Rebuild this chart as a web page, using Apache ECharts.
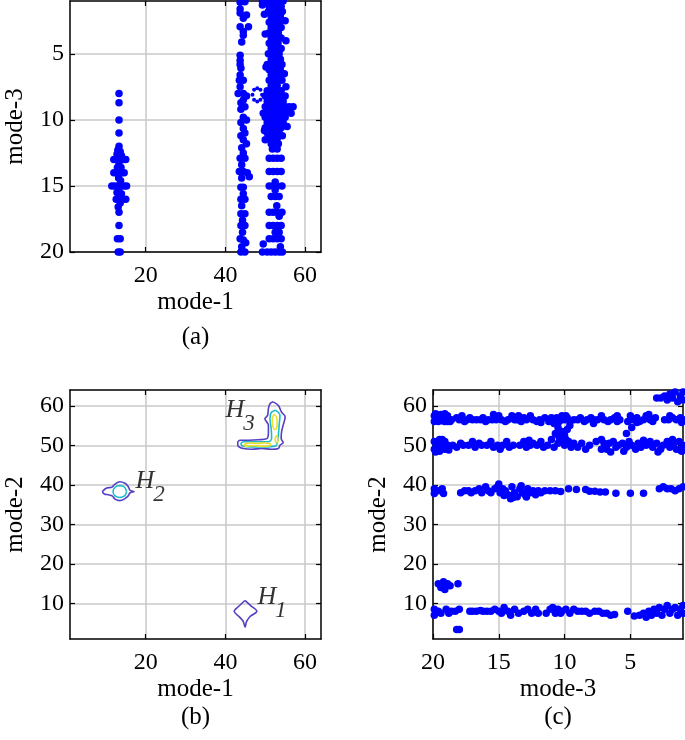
<!DOCTYPE html>
<html><head><meta charset="utf-8">
<script src="https://cdn.jsdelivr.net/npm/echarts@6/dist/echarts.min.js"></script>
<style>html,body{margin:0;padding:0;background:#fff}#c{width:685px;height:740px}</style>
</head><body><div id="c"></div>
<script>
// ---------- tick labels ----------
const ticksMode1 = [20, 40, 60];
const ticksMode2 = [10, 20, 30, 40, 50, 60];
const ticksMode3 = [5, 10, 15, 20];
const panelLabels = ['(a)', '(b)', '(c)'];

// ---------- (a) mode-1 (x) vs mode-3 (y) ----------
const scatterA_cluster13 = [[13.3,8],[13.3,8.7],[13.3,10],[13.3,11],[13.3,12],[13,12.3],[13.6,12.4],[12.8,12.6],[13.9,12.7],[13.3,12.8],[12,13],[12.5,13],[13,13],[14,13],[14.5,13],[15,13],[13.3,13.4],[12.9,13.6],[13.8,13.6],[12,14],[12.6,14],[13.4,14],[14,14],[14.6,14],[13.2,14.4],[13.7,14.6],[11.5,15],[12.2,15],[13,15],[13.8,15],[14.6,15],[15.2,15],[13.2,15.3],[12.8,15.5],[13.9,15.6],[13.3,15.8],[12.6,16],[13.4,16],[14.2,16],[15,16],[13.6,16.3],[13.1,16.6],[13.3,17],[13.3,18],[12.9,19],[13.6,19],[13.1,20],[13.6,20]];
const scatterA_cluster44 = [[43.7,1.1],[44.9,1.05],[43.7,1.6],[43.7,1.9],[45.3,2.06],[44.5,2.3],[43.7,2.95],[45.8,2.95],[44.5,3.3],[44.5,3.6],[44.1,4.1],[43.7,5.1],[43.7,5.5],[43.7,5.8],[43.9,6.1],[43.7,6.6],[44.5,7.0],[43.5,7.0],[43.7,7.5],[43.2,8.0],[44.5,8.0],[45.3,8.2],[44.5,8.5],[43.9,8.7],[44.9,9.0],[43.9,9.2],[44.5,9.8],[45.3,10.0],[43.9,10.2],[44.5,10.65],[44.9,11.0],[43.9,11.2],[44.5,11.5],[45.3,11.8],[44.1,12.1],[44.5,12.5],[43.7,12.9],[44.9,12.9],[44.1,13.4],[43.5,13.9],[44.5,13.9],[45.5,14.0],[46.0,14.3],[44.1,14.4],[44.5,15.1],[43.9,15.1],[44.5,15.6],[43.9,16.0],[44.9,16.0],[44.1,16.5],[43.9,17.1],[44.9,17.1],[44.3,17.6],[43.9,18.0],[44.9,18.0],[44.3,18.5],[43.7,19.0],[44.5,19.1],[45.1,19.3],[44.1,19.6],[43.9,20],[44.9,20]];
const scatterA_cluster52 = [
[50.5,1],[51.5,1],[52.5,1],[53.5,1],[54.5,1],[49.3,1],[49.3,1.3],
[51,1.4],[52.5,1.4],[54,1.4],
[50.8,1.8],[52,1.8],[53,1.8],[54.3,1.8],[49.8,2],
[51.5,2.2],[52.8,2.2],[53.8,2.2],[55,2.5],
[51,2.6],[52,2.6],[53.5,2.6],
[51.5,3],[52.5,3],[54,3],[50,3.5],
[51,3.4],[52.2,3.4],[53.3,3.4],
[51.5,3.8],[53,3.8],[54,3.8],[55.2,4],
[51,4.2],[52,4.2],[53.2,4.2],
[51.5,4.6],[52.8,4.6],[54,4.6],
[50.8,5],[52,5],[53.5,5],
[51.5,5.4],[52.5,5.4],[53.8,5.4],
[50.5,5.8],[51.5,5.8],[53,5.8],[54.2,5.8],[50.2,6],
[51,6.2],[52.5,6.2],[53.8,6.2],[54.8,6.5],
[51.5,6.6],[52.5,6.6],[53.5,6.6],
[51,7],[52,7],[53.5,7],[54.2,7],
[51.5,7.4],[53,7.4],[55.2,7.5],
[50.5,7.8],[51.8,7.8],[52.8,7.8],[54,7.8],
[50,8.2],[51,8.2],[52,8.2],[53,8.2],[54,8.2],[55,8.2],
[50.5,8.6],[51.5,8.6],[52.5,8.6],[53.5,8.6],[54.5,8.6],
[50,9],[51,9],[52,9],[53,9],[54,9],[55,9],[56,9],[57,9],
[49.5,9.5],[50.5,9.4],[51.5,9.4],[52.5,9.4],[53.5,9.4],[54.5,9.4],[55.5,9.4],[56.5,9.5],
[50,9.8],[51,9.8],[52,9.8],[53,9.8],[54,9.8],[55,9.8],
[50.5,10.2],[51.5,10.2],[52.5,10.2],[53.5,10.2],[54.5,10.2],[55.5,10.5],
[50,10.6],[51,10.6],[52,10.6],[53,10.6],[54,10.6],[49.8,10.8],
[50.5,11],[51.5,11],[52.5,11],[53.5,11],[54.3,11.2],
[51,11.4],[52,11.4],[53,11.4],[50,11.5],
[51.5,11.8],[52.5,11.8],[53.3,11.8],
[51.8,12.2],[53,12.2],
[51,12.9],[52,12.9],[53,12.9],[54,12.9],
[51,13.9],[52,13.9],[53,13.9],[54,13.9],
[51,15],[52,15],[53,15],[54.2,15],[52.5,14.7],[52.5,15.3],
[51.5,15.8],[52.5,15.8],[53.5,15.8],
[52.9,16.5],
[51,17],[52,17],[53,17],[54.2,17],[53.5,17.3],
[51,18],[52,18],[53,18],[54,18],
[52.5,18.5],[53.5,18.5],
[51,19],[52,19],[53,19],[54,19],
[49.5,19.4],[53.8,19.6],
[49.3,20],[50.5,20],[51.5,20],[52.5,20],[53.5,20],[54.3,20]];
const scatterA_ring48 = [[46.8,8.1],[47.2,7.72],[48.0,7.6],[48.8,7.72],[49.2,8.1],[48.8,8.48],[48.0,8.6],[47.2,8.48]];

// ---------- (c) mode-3 (x) vs mode-2 (y) ----------
const scatterC_row57 = [[19.9,57.5],[19.9,56],[19.7,57],[19.5,56.5],[19.4,57.8],[19.3,56.2],[19.1,58],[19.1,57],[19.1,56],[18.9,56],[18.7,56],[18.6,56.5],
[19.8,58],[19.6,56],[18.9,57.5],
[18.2,57],[18.0,56.5],[17.8,57.5],[17.6,56],[17.4,56.5],[17.2,57],[17.0,56.5],
[16.7,56.5],[16.4,56.5],[16.2,57],[16.0,56],[15.8,56.5],
[15.5,56.5],[15.2,56.5],[15.0,57.5],[14.8,56.5],[14.5,56],[14.3,56.5],[14.0,57.5],[13.8,56.5],[15.4,57.8],[13.5,57.5],
[13.6,56.5],[13.3,56],[13.1,57],[12.9,56.5],[12.6,57.5],[12.4,56.5],[12.1,56],[11.9,56.5],[11.8,55.8],
[11.5,57],[11.2,56],[11.0,57],[10.8,55.5],[10.6,57],[10.4,56],[10.2,57.5],
[10.5,54.5],[10.2,53.5],[10.0,52.5],[9.8,54],[10.4,52],[9.9,51.5],[10.7,53],[9.6,55],
[10.0,56.5],[9.8,57],[9.6,56],[9.9,57.5],
[9.3,56.5],[9.0,56.5],[8.8,57],[8.5,56],[8.3,56.5],[8.0,57],[7.8,56.5],[7.8,55.5],
[7.5,56.5],[7.2,57.5],[7.0,56.5],[6.7,56],[6.5,56.5],[6.2,57],[6.0,56],[5.8,56.5],[6.0,57.5],
[5.2,56],[5.0,57.5],[4.8,56.5],[4.5,57],[4.3,56],[4.0,56.5],[3.8,57.5],[3.5,56.5],[3.3,56],[3.1,57],[4.5,55.8],[3.6,57.8],
[4.9,54.5],[5.3,53],
[2.4,56.5],[2.1,56.5],[1.8,57],[1.5,56.5],[1.2,57],[1.0,56.5],[2.0,57.5],[1.1,55.8]];
const scatterC_row50 = [[19.9,51],[19.9,49],[19.7,50],[19.5,51.5],[19.5,48.5],[19.3,50],[19.1,49],[19.1,51],[18.9,50],
[19.8,48.3],[19.3,51.5],[18.8,48.8],
[18.5,50],[18.2,49.5],[17.9,50.5],[17.7,50],
[17.3,50],[17.0,51],[16.8,49.5],[16.5,50.5],[16.3,50],
[15.9,50],[15.6,51],[15.4,49.5],[15.1,50],
[14.7,50],[14.4,51],[14.2,49.5],[13.9,50],[14.9,49],
[13.4,50],[13.1,51],[12.9,49.5],[12.6,50],[12.4,50.5],[12.7,51.3],
[12.1,50],[11.8,51],[11.6,49.5],[11.3,50],[11.0,51.5],[10.8,49.5],[10.5,50.5],[10.3,52],[10.0,50],[9.7,51],[9.5,49.5],[9.3,50.5],[10.6,52.8],[10.1,51.2],
[9.0,49.5],[8.7,50.5],[8.4,49],[8.1,50],[7.6,51],
[7.2,49],[7.0,50.5],[6.8,49],[6.6,50.5],[6.3,51],[6.1,49.5],[5.9,50],[7.2,51.5],[6.5,48.3],
[5.6,50.5],[5.3,49.5],[5.1,51],[4.9,50],[4.6,49],[4.4,50.5],[4.2,49.5],[5.5,48.5],[4.0,51.3],
[3.8,50],[3.5,51],[3.3,49.5],[3.0,50.5],[2.7,49],[2.5,50],[2.9,48.3],
[2.2,51],[2.0,49.5],[1.7,50.5],[1.5,49],[1.3,51],[1.0,50],[1.1,48.5],[1.8,51.5],[1.2,48.8]];
const scatterC_row38 = [[19.9,39],[19.9,37.8],[19.6,38.5],[19.3,39],[19.2,37.8],
[17.9,38],[17.6,38.5],[17.3,38.5],[17.1,38],
[16.8,38.5],[16.5,39],[16.3,38],[16.0,39.5],[15.8,38.5],
[15.6,38],[15.3,39],[15.1,39.5],[14.9,38],[14.7,39],[14.5,38.5],[14.3,37.5],[14.1,36.5],[14.0,39.5],[13.8,38],[13.6,37],[13.4,39],[13.2,38],
[15.0,40.2],[14.6,37.3],[13.9,36.8],[13.3,39.8],[12.9,36.9],
[13.0,37.5],[12.8,39],[12.6,38],[12.4,38.5],[12.2,37.5],[12.0,38.5],[11.8,38],[11.5,38.5],
[11.1,38.5],[10.7,38.5],[10.3,38.3],[9.7,39],[9.1,38.8],[8.4,38.8],[8.1,38.4],[7.7,38.4],[7.3,38.2],[6.9,38.2],[6.1,37.9],[5.0,37.9],[4.0,37.9],
[2.8,39],[2.5,39.5],[2.2,39],[1.9,39],[1.6,38.5],[1.3,39],[1.0,39.5]];
const scatterC_row15 = [[19.6,15],[19.4,14],[19.2,15.5],[19.1,13.5],[18.9,15],[18.7,14.5],[18.1,15],[18.2,3.4],[18.0,3.4]];
const scatterC_row8 = [[19.9,8.5],[19.9,7],[19.6,8],[19.4,7.5],
[19.0,8.5],[18.8,7.5],[18.6,8],[18.3,8],[18.0,8.5],
[17.2,8],[17.0,8],[16.7,8],[16.4,8.2],
[16.2,8],[15.9,8],[15.6,8],[15.3,8.5],[15.0,8],
[14.8,7.5],[14.6,9],[14.3,8],[14.1,7],[13.8,8.5],[13.5,7.5],
[13.1,8],[12.8,8.5],[12.5,7.5],[12.2,8.5],[12.0,7.5],
[11.4,7.5],[11.1,8.5],[10.9,9],[10.7,7.5],[10.5,8.5],[10.3,7.5],
[10.2,8],[9.9,8.5],[9.6,7.5],
[9.3,8.5],[9.0,8],[8.7,8],[8.4,8],[8.1,7.5],
[7.7,8],[7.4,8],[7.1,7.5],[6.8,7.5],[6.5,7],[6.2,7.2],[5.2,8],[4.7,6.8],
[4.3,7],[4.0,7.5],[3.8,6.5],[3.6,8],[3.4,7],[3.2,8.5],[3.0,7.5],[2.8,9],[2.6,7],[2.4,8.5],[2.2,9.5],[2.0,7.5],[1.8,8.5],[1.6,9],[1.4,7],[1.2,8.5],[1.0,9.5],[1.0,7.5]];
const scatterC_row62 = [[3.0,62],[2.7,62],[2.4,62.5],[2.2,61.5],[2.0,63],[1.8,62],[1.6,63.5],[1.4,61],[1.2,62.5],[1.0,63.5],[1.0,61.5]];

// ---------- (b) mode-1 (x) vs mode-2 (y): density contours ----------
const contourH1 = [[44.9,10.75],[46.4,9.4],[47.9,8.0],[46.2,6.7],[45.3,5.4],[44.95,4.0],[44.5,5.4],[43.5,6.6],[42.2,8.0],[43.5,9.4],[44.9,10.75]];
const contourH2outer = [[9.1,38.3],[10.2,39.2],[11.5,39.4],[12.3,40.2],[13.5,40.8],[14.8,40.4],[15.6,39.6],[16.1,38.6],[17.1,38.3],[16.1,38.0],[15.6,37.2],[14.6,36.4],[13.5,36.0],[12.3,36.4],[11.6,37.2],[10.6,37.5],[9.6,37.7],[9.1,38.3]];
const contourH2inner = [[15.2,38.3],[14.7,39.4],[13.5,39.8],[12.3,39.4],[11.8,38.3],[12.3,37.2],[13.5,36.8],[14.7,37.2],[15.2,38.3]];
const contourH3outer = [[52.0,61.0],[53.3,60.1],[54.1,58.4],[55.0,57.2],[54.5,55.1],[54.1,53.4],[54.0,51.7],[54.5,50.7],[53.7,50.0],[53.3,49.2],[51.6,49.0],[49.1,49.2],[46.6,49.0],[44.5,49.2],[43.2,49.8],[43.1,50.7],[43.7,51.3],[45.8,51.3],[48.3,51.4],[50.4,51.7],[50.8,53.4],[50.8,55.1],[50.4,55.9],[49.9,56.7],[50.6,57.6],[50.8,59.3],[51.2,60.5],[52.0,61.0]];
const contourH3mid = [[52.5,58.9],[53.7,57.6],[53.5,55.1],[53.3,52.6],[53.1,50.9],[52.5,49.8],[49.9,49.6],[46.6,49.6],[44.5,49.8],[43.9,50.4],[44.5,50.9],[47.4,50.9],[50.8,50.9],[51.6,51.7],[51.5,54.2],[51.2,56.7],[51.5,58.3],[52.5,58.9]];
const contourH3peakA = [[52.3,57.8],[52.9,57.0],[53.0,55.5],[52.8,54.2],[52.3,54.0],[51.9,55.0],[51.8,56.5],[52.0,57.5],[52.3,57.8]];
const contourH3peakB = [[52.9,52.5],[53.2,51.5],[53.0,50.7],[52.6,50.8],[52.5,51.8],[52.9,52.5]];
const contourH3peakC = [[44.7,50.2],[46.0,50.6],[48.0,50.5],[50.0,50.6],[51.3,50.4],[51.2,49.9],[49.0,49.8],[47.0,49.9],[45.0,49.8],[44.7,50.2]];
const peakLabels = [
  {name: 'H', sub: '1', x: 50.4, y: 11.7},
  {name: 'H', sub: '2', x: 19.8, y: 41.0},
  {name: 'H', sub: '3', x: 42.4, y: 58.9}
];

// ---------- styling ----------
const FONT = "'Liberation Serif', 'Times New Roman', Times, 'DejaVu Serif', serif";
const BLUE = '#0000ff';
const PURPLE = '#5340c4';
const CYAN = '#22bcc6';
const YELLOW = '#ece02a';

function mainX(grid, min, max, ticks, inverse, name) {
  return {
    type: 'value', gridIndex: grid, position: 'bottom', min, max, inverse,
    name, nameLocation: 'middle', nameGap: 38,
    nameTextStyle: {fontFamily: FONT, fontSize: 25, color: '#000'},
    axisLine: {show: true, onZero: false, lineStyle: {color: '#000', width: 1.5}},
    axisTick: {show: true, inside: true, length: 5, customValues: ticks, lineStyle: {color: '#000', width: 1.2}},
    axisLabel: {show: true, customValues: ticks, margin: 12, fontFamily: FONT, fontSize: 24, color: '#000'},
    splitLine: {show: true, lineStyle: {color: '#c8c8c8', width: 1.5}}
  };
}
function mirrorX(grid, min, max, ticks, inverse) {
  return {
    type: 'value', gridIndex: grid, position: 'top', min, max, inverse,
    axisLine: {show: true, onZero: false, lineStyle: {color: '#000', width: 1.5}},
    axisTick: {show: true, inside: true, length: 5, customValues: ticks, lineStyle: {color: '#000', width: 1.2}},
    axisLabel: {show: false}, splitLine: {show: false}
  };
}
function mainY(grid, min, max, ticks, inverse, name) {
  return {
    type: 'value', gridIndex: grid, position: 'left', min, max, inverse,
    name, nameLocation: 'middle', nameGap: 42, nameRotate: 90,
    nameTextStyle: {fontFamily: FONT, fontSize: 25, color: '#000'},
    axisLine: {show: true, onZero: false, lineStyle: {color: '#000', width: 1.5}},
    axisTick: {show: true, inside: true, length: 5, customValues: ticks, lineStyle: {color: '#000', width: 1.2}},
    axisLabel: {show: true, customValues: ticks, margin: 6, fontFamily: FONT, fontSize: 24, color: '#000'},
    splitLine: {show: true, lineStyle: {color: '#c8c8c8', width: 1.5}}
  };
}
function mirrorY(grid, min, max, ticks, inverse) {
  return {
    type: 'value', gridIndex: grid, position: 'right', min, max, inverse,
    axisLine: {show: true, onZero: false, lineStyle: {color: '#000', width: 1.5}},
    axisTick: {show: true, inside: true, length: 5, customValues: ticks, lineStyle: {color: '#000', width: 1.2}},
    axisLabel: {show: false}, splitLine: {show: false}
  };
}

function dots(data, xi, yi, size) {
  return {type: 'scatter', xAxisIndex: xi, yAxisIndex: yi, data, symbol: 'circle', symbolSize: size || 7.5,
    itemStyle: {color: BLUE, opacity: 1}, clip: false, silent: true, animation: false, z: 3};
}
function contour(data, color) {
  return {type: 'line', xAxisIndex: 2, yAxisIndex: 2, data, showSymbol: false, symbol: 'none', smooth: 0.35,
    lineStyle: {color, width: 1.6}, silent: true, animation: false, z: 3};
}
function panelText(text, x, y) {
  return {type: 'text', silent: true, x, y,
    style: {text, textAlign: 'center', textVerticalAlign: 'middle', fontFamily: FONT, fontSize: 25, fill: '#000'}};
}

const chart = echarts.init(document.getElementById('c'), null, {renderer: 'canvas'});
chart.setOption({
  animation: false,
  backgroundColor: '#fff',
  grid: [
    {left: 70, top: 1, width: 251, height: 251},
    {left: 70, top: 390, width: 251, height: 249},
    {left: 433, top: 390, width: 250, height: 249}
  ],
  xAxis: [
    mainX(0, 1, 64, ticksMode1, false, 'mode-1'), mirrorX(0, 1, 64, ticksMode1, false),
    mainX(1, 1, 64, ticksMode1, false, 'mode-1'), mirrorX(1, 1, 64, ticksMode1, false),
    mainX(2, 1, 20, ticksMode3, true, 'mode-3'), mirrorX(2, 1, 20, ticksMode3, true)
  ],
  yAxis: [
    mainY(0, 1, 20, ticksMode3, true, 'mode-3'), mirrorY(0, 1, 20, ticksMode3, true),
    mainY(1, 1, 64, ticksMode2, false, 'mode-2'), mirrorY(1, 1, 64, ticksMode2, false),
    mainY(2, 1, 64, ticksMode2, false, 'mode-2'), mirrorY(2, 1, 64, ticksMode2, false)
  ],
  series: [
    dots(scatterA_cluster13, 0, 0), dots(scatterA_cluster44, 0, 0), dots(scatterA_cluster52, 0, 0), dots(scatterA_ring48, 0, 0, 4),
    dots(scatterC_row57, 4, 4), dots(scatterC_row50, 4, 4), dots(scatterC_row38, 4, 4), dots(scatterC_row15, 4, 4), dots(scatterC_row8, 4, 4), dots(scatterC_row62, 4, 4),
    contour(contourH1, PURPLE), contour(contourH2outer, PURPLE), contour(contourH2inner, CYAN),
    contour(contourH3outer, PURPLE), contour(contourH3mid, CYAN),
    contour(contourH3peakA, YELLOW), contour(contourH3peakB, YELLOW), contour(contourH3peakC, YELLOW),
    {
      type: 'scatter', xAxisIndex: 2, yAxisIndex: 2, symbolSize: 0, silent: true, animation: false,
      data: peakLabels.map(p => ({value: [p.x, p.y], name: p.name})),
      label: {show: true, position: 'inside', formatter: p => p.name,
        fontFamily: FONT, fontStyle: 'italic', fontSize: 26, color: '#000'}, z: 5
    },
    {
      type: 'scatter', xAxisIndex: 2, yAxisIndex: 2, symbolSize: 0, silent: true, animation: false,
      data: peakLabels.map(p => ({value: [p.x, p.y], name: p.sub})),
      label: {show: true, position: 'inside', offset: [14, 14], formatter: p => p.name,
        fontFamily: FONT, fontStyle: 'italic', fontSize: 23, color: '#000'}, z: 5
    }
  ],
  graphic: [
    panelText(panelLabels[0], 195.5, 337),
    panelText(panelLabels[1], 195.5, 717),
    panelText(panelLabels[2], 558, 717)
  ]
});
</script></body></html>
